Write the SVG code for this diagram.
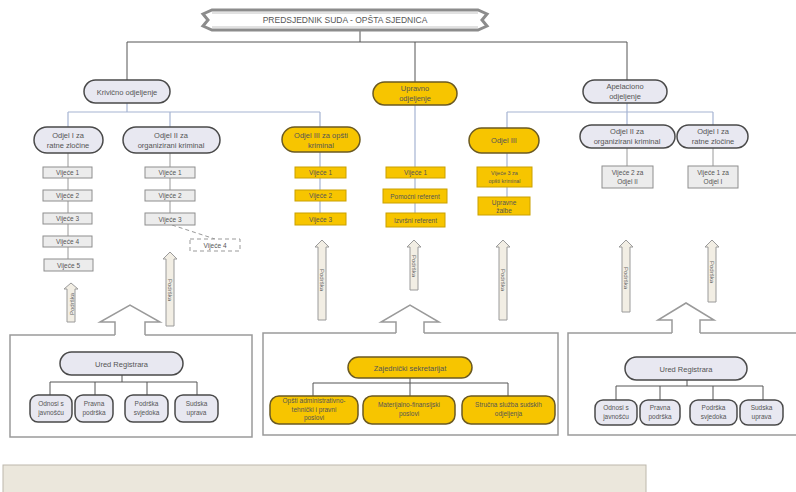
<svg xmlns="http://www.w3.org/2000/svg" width="796" height="492" viewBox="0 0 796 492">
<style>
.gp{fill:#e8e8f1;stroke:#4a4a4a;stroke-width:1.5}
.yp{fill:#f7c500;stroke:#6b5a22;stroke-width:1.5}
.gb{fill:#ececec;stroke:#8e8e8e;stroke-width:1}
.yb{fill:#f7c500;stroke:#caa000;stroke-width:1}
.t{font-family:"Liberation Sans",Arial,sans-serif;font-size:7.5px;fill:#555;text-anchor:middle}
.s{font-size:6.5px}
.ln{stroke:#a6b4d2;stroke-width:1.2;fill:none}
.lg{stroke:#9a9a9a;stroke-width:1;fill:none}
.ld{stroke:#555;stroke-width:1;fill:none}
.arr{fill:#f2eee4;stroke:#9a9a9a;stroke-width:1}
.at{font-family:"Liberation Sans",Arial,sans-serif;font-size:6px;fill:#666;text-anchor:middle}
.box{fill:#fff;stroke:#9a9a9a;stroke-width:1.5}
</style>

<rect x="0" y="0" width="796" height="492" fill="#fff"/>

<g id="left-box">
  <path class="box" d="M115,335 H10 V437 H252 V335 H145"/>
  <path class="box" d="M115,335 V322 H100 L130,305 L160,322 H145 V335"/>
</g>
<g id="mid-box">
  <path class="box" d="M396,333 H263 V435 H558 V333 H424"/>
  <path class="box" d="M396,333 V322 H381 L410,305 L439,322 H424 V333"/>
</g>
<g id="right-box">
  <path class="box" d="M672,333 H568 V435 H797"/>
  <path class="box" d="M797,333 H700" fill="none"/>
  <path class="box" d="M672,333 V320 H658 L686,303 L714,320 H700 V333"/>
</g>

<g id="connectors">
  <path class="ld" d="M360,30 V42 M127,42 H627 M127,42 V80 M415,42 V82 M627,42 V80"/>
  <path class="ln" d="M127,103 V112 M68,112 H320 M68,112 V127 M170,112 V127 M320,112 V127"/>
  <path class="ln" d="M627,103 V112 M507,112 H713 M507,112 V128 M627,112 V125 M713,112 V125"/>
  <path class="lg" d="M68,153 V259 M170,153 V213"/>
  <path class="ln" d="M320,152 V213 M415,105 V213 M507,153 V197"/>
  <path class="lg" d="M627,148 V166 M713,148 V166"/>
  <path d="M172,225 L215,239" stroke="#999" stroke-width="1" stroke-dasharray="4,3" fill="none"/>
  <path class="ld" d="M122,375 V382 M50,382 H197 M50,382 V395 M95,382 V395 M147,382 V395 M197,382 V395"/>
  <path class="ld" d="M410,378 V383 M313,383 H508 M313,383 V396 M410,383 V396 M508,383 V396"/>
  <path class="ld" d="M687,380 V386 M616,386 H763 M616,386 V400 M660,386 V400 M713,386 V400 M763,386 V400"/>
</g>

<g id="title">
  <polygon points="212,10 478,10 487,14 482,20 487,26 478,30 212,30 203,26 208,20 203,14" fill="#fff" stroke="#8c8c8c" stroke-width="3"/>
  <line x1="212" y1="13" x2="478" y2="13" stroke="#c4c4c4" stroke-width="1"/>
  <line x1="212" y1="27" x2="478" y2="27" stroke="#c4c4c4" stroke-width="1"/>
  <text class="t" x="345" y="23" style="font-size:8.5px">PREDSJEDNIK SUDA - OPŠTA SJEDNICA</text>
</g>

<g id="krivicno">
  <rect class="gp" x="84" y="80" width="86" height="23" rx="11.5"/>
  <text class="t" x="127" y="94.5">Krivično odjeljenje</text>
</g>
<g id="upravno">
  <rect class="yp" x="373" y="82" width="84" height="23" rx="11.5"/>
  <text class="t" x="415" y="91">Upravno</text>
  <text class="t" x="415" y="101">odjeljenje</text>
</g>
<g id="apelaciono">
  <rect class="gp" x="583" y="80" width="84" height="23" rx="11.5"/>
  <text class="t" x="625" y="89">Apelaciono</text>
  <text class="t" x="625" y="99">odjeljenje</text>
</g>

<g id="k-odjel1">
  <rect class="gp" x="34" y="127" width="69" height="26" rx="13"/>
  <text class="t" x="68" y="138">Odjel I za</text>
  <text class="t" x="68" y="148">ratne zločine</text>
</g>
<g id="k-odjel2">
  <rect class="gp" x="123" y="127" width="97" height="26" rx="13"/>
  <text class="t" x="171" y="138">Odjel II za</text>
  <text class="t" x="171" y="148">organizirani kriminal</text>
</g>
<g id="k-odjel3">
  <rect class="yp" x="282" y="127" width="78" height="25" rx="12.5"/>
  <text class="t" x="321" y="137.5">Odjel III za opšti</text>
  <text class="t" x="321" y="147.5">kriminal</text>
</g>
<g id="u-odjel3">
  <rect class="yp" x="469" y="128" width="70" height="25" rx="12.5"/>
  <text class="t" x="504" y="143">Odjel III</text>
</g>
<g id="a-odjel2">
  <rect class="gp" x="580" y="125" width="95" height="23" rx="11.5"/>
  <text class="t" x="627" y="134">Odjel II za</text>
  <text class="t" x="627" y="144">organizirani kriminal</text>
</g>
<g id="a-odjel1">
  <rect class="gp" x="677" y="125" width="71" height="23" rx="11.5"/>
  <text class="t" x="713" y="134">Odjel I za</text>
  <text class="t" x="713" y="144">ratne zločine</text>
</g>

<g id="k1-vijeca">
  <rect class="gb" x="43" y="167" width="49" height="11"/><text class="t s" x="67.5" y="175">Vijeće 1</text>
  <rect class="gb" x="43" y="190" width="49" height="11"/><text class="t s" x="67.5" y="198">Vijeće 2</text>
  <rect class="gb" x="43" y="213" width="49" height="11"/><text class="t s" x="67.5" y="221">Vijeće 3</text>
  <rect class="gb" x="43" y="236" width="49" height="11"/><text class="t s" x="67.5" y="244">Vijeće 4</text>
  <rect class="gb" x="44" y="259" width="49" height="12"/><text class="t s" x="68.5" y="267.5">Vijeće 5</text>
</g>
<g id="k2-vijeca">
  <rect class="gb" x="145" y="167" width="50" height="11"/><text class="t s" x="170" y="175">Vijeće 1</text>
  <rect class="gb" x="145" y="190" width="50" height="11"/><text class="t s" x="170" y="198">Vijeće 2</text>
  <rect class="gb" x="145" y="213" width="50" height="12"/><text class="t s" x="170" y="221.5">Vijeće 3</text>
</g>
<g id="k2-vijece4">
  <rect x="190" y="239" width="50" height="12" fill="#fff" stroke="#999" stroke-width="1" stroke-dasharray="4,3"/>
  <text class="t s" x="215" y="247.5">Vijeće 4</text>
</g>
<g id="k3-vijeca">
  <rect class="yb" x="295" y="167" width="51" height="11"/><text class="t s" x="320.5" y="175">Vijeće 1</text>
  <rect class="yb" x="295" y="190" width="51" height="11"/><text class="t s" x="320.5" y="198">Vijeće 2</text>
  <rect class="yb" x="295" y="213" width="51" height="12"/><text class="t s" x="320.5" y="221.5">Vijeće 3</text>
</g>
<g id="u-vijeca">
  <rect class="yb" x="386" y="167" width="59" height="11"/><text class="t s" x="415.5" y="175">Vijeće 1</text>
  <rect class="yb" x="383" y="189" width="64" height="14"/><text class="t s" x="415" y="198.5">Pomoćni referent</text>
  <rect class="yb" x="386" y="213" width="59" height="14"/><text class="t s" x="415.5" y="222.5">Izvršni referent</text>
</g>
<g id="u3-vijeca">
  <rect class="yb" x="477" y="167" width="55" height="20"/>
  <text class="t" x="504.5" y="175" style="font-size:5.5px">Vijeće 3 za</text>
  <text class="t" x="504.5" y="183" style="font-size:5.5px">opšti kriminal</text>
  <rect class="yb" x="478" y="197" width="52" height="18"/>
  <text class="t s" x="504" y="204.5">Upravne</text>
  <text class="t s" x="504" y="212.5">žalbe</text>
</g>
<g id="a-vijeca">
  <rect class="gb" x="602" y="166" width="51" height="22"/>
  <text class="t s" x="627.5" y="175">Vijeće 2 za</text>
  <text class="t s" x="627.5" y="183.5">Odjel II</text>
  <rect class="gb" x="688" y="166" width="50" height="22"/>
  <text class="t s" x="713" y="175">Vijeće 1 za</text>
  <text class="t s" x="713" y="183.5">Odjel I</text>
</g>

<g id="podrska-arrows">
  <path class="arr" d="M67,322 V289 H64 L71,283 L78,289 H75 V322 Z"/>
  <text class="at" transform="translate(73.5,304) rotate(-90)">Podrška</text>
  <path class="arr" d="M166,326 V259 H163 L170,252 L177,259 H174 V326 Z"/>
  <text class="at" transform="translate(168,290) rotate(90)">Podrška</text>
  <path class="arr" d="M318,320 V247 H315 L322,240 L329,247 H326 V320 Z"/>
  <text class="at" transform="translate(320,280) rotate(90)">Podrška</text>
  <path class="arr" d="M410,290 V247 H407 L414,240 L421,247 H418 V290 Z"/>
  <text class="at" transform="translate(412,266) rotate(90)">Podrška</text>
  <path class="arr" d="M499,320 V247 H496 L503,240 L510,247 H507 V320 Z"/>
  <text class="at" transform="translate(501,280) rotate(90)">Podrška</text>
  <path class="arr" d="M622,312 V247 H619 L626,240 L633,247 H630 V312 Z"/>
  <text class="at" transform="translate(624,278) rotate(90)">Podrška</text>
  <path class="arr" d="M708,302 V247 H705 L712,240 L719,247 H716 V302 Z"/>
  <text class="at" transform="translate(710,272) rotate(90)">Podrška</text>
</g>

<g id="ured-left">
  <rect class="gp" x="60" y="352" width="123" height="23" rx="11.5"/>
  <text class="t" x="121.5" y="366.5">Ured Registrara</text>
</g>
<g id="ured-left-children">
  <rect class="gp" x="30" y="395" width="42" height="27" rx="8"/>
  <text class="t s" x="51" y="406">Odnosi s</text><text class="t s" x="51" y="415">javnošću</text>
  <rect class="gp" x="75" y="395" width="38" height="27" rx="8"/>
  <text class="t s" x="94" y="406">Pravna</text><text class="t s" x="94" y="415">podrška</text>
  <rect class="gp" x="125" y="395" width="43" height="27" rx="8"/>
  <text class="t s" x="146.5" y="406">Podrška</text><text class="t s" x="146.5" y="415">svjedoka</text>
  <rect class="gp" x="175" y="395" width="43" height="27" rx="8"/>
  <text class="t s" x="196.5" y="406">Sudska</text><text class="t s" x="196.5" y="415">uprava</text>
</g>

<g id="zajednicki">
  <rect class="yp" x="348" y="357" width="124" height="21" rx="10.5"/>
  <text class="t" x="410" y="370.5">Zajednički sekretarijat</text>
</g>
<g id="zajednicki-children">
  <rect class="yp" x="270" y="396" width="88" height="28" rx="9"/>
  <text class="t s" x="314" y="403">Opšti administrativno-</text>
  <text class="t s" x="314" y="411.5">tehnički i pravni</text>
  <text class="t s" x="314" y="420">poslovi</text>
  <rect class="yp" x="363" y="396" width="92" height="28" rx="9"/>
  <text class="t s" x="409" y="407">Materijalno-finansijski</text>
  <text class="t s" x="409" y="416">poslovi</text>
  <rect class="yp" x="462" y="396" width="93" height="28" rx="9"/>
  <text class="t s" x="508.5" y="407">Stručna služba sudskih</text>
  <text class="t s" x="508.5" y="416">odjeljenja</text>
</g>

<g id="ured-right">
  <rect class="gp" x="625" y="357" width="122" height="23" rx="11.5"/>
  <text class="t" x="686" y="371.5">Ured Registrara</text>
</g>
<g id="ured-right-children">
  <rect class="gp" x="595" y="400" width="42" height="25" rx="8"/>
  <text class="t s" x="616" y="410">Odnosi s</text><text class="t s" x="616" y="419">javnošću</text>
  <rect class="gp" x="640" y="400" width="40" height="25" rx="8"/>
  <text class="t s" x="660" y="410">Pravna</text><text class="t s" x="660" y="419">podrška</text>
  <rect class="gp" x="690" y="400" width="47" height="25" rx="8"/>
  <text class="t s" x="713.5" y="410">Podrška</text><text class="t s" x="713.5" y="419">svjedoka</text>
  <rect class="gp" x="740" y="400" width="43" height="25" rx="8"/>
  <text class="t s" x="761.5" y="410">Sudska</text><text class="t s" x="761.5" y="419">uprava</text>
</g>

<g id="bottom-panel">
  <rect x="3" y="465" width="643" height="30" fill="#ebe7dc" stroke="#bdb8ac" stroke-width="1"/>
</g>
</svg>
